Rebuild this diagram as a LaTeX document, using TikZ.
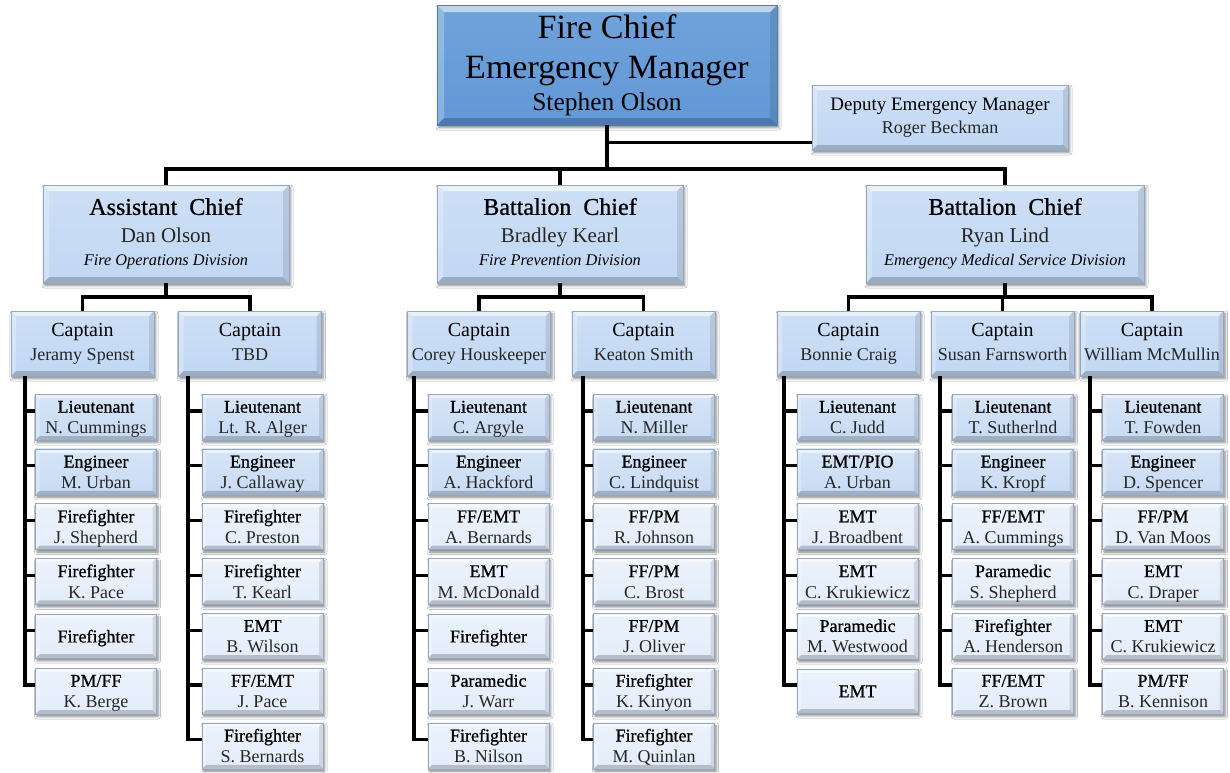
\documentclass[tikz,border=0pt]{standalone}
\usepackage{fontspec}
\setmainfont{Liberation Serif}
\newfontfamily\semib[FakeBold=0.8]{Liberation Serif}
\usetikzlibrary{shadows.blur}

\definecolor{chiefblue}{HTML}{6198D6}
\definecolor{chiefedge}{HTML}{4F7DB5}
\definecolor{unitblue}{HTML}{C1D7F3}
\definecolor{crewblue}{HTML}{C8DBF4}
\definecolor{crewpale}{HTML}{E3EDFA}
\definecolor{boxedge}{HTML}{93A7C0}
\definecolor{nametext}{HTML}{262626}

\tikzset{
  bevel/.style={path picture={
    \fill[white,opacity=.55] (path picture bounding box.north west) -- (path picture bounding box.north east)
      -- ([xshift=-#1,yshift=-#1]path picture bounding box.north east) -- ([xshift=#1,yshift=-#1]path picture bounding box.north west) -- cycle;
    \fill[white,opacity=.25] (path picture bounding box.north west) -- (path picture bounding box.south west)
      -- ([xshift=#1,yshift=#1]path picture bounding box.south west) -- ([xshift=#1,yshift=-#1]path picture bounding box.north west) -- cycle;
    \fill[black,opacity=.2] (path picture bounding box.south west) -- (path picture bounding box.south east)
      -- ([xshift=-#1,yshift=#1]path picture bounding box.south east) -- ([xshift=#1,yshift=#1]path picture bounding box.south west) -- cycle;
    \fill[black,opacity=.1] (path picture bounding box.north east) -- (path picture bounding box.south east)
      -- ([xshift=-#1,yshift=#1]path picture bounding box.south east) -- ([xshift=-#1,yshift=-#1]path picture bounding box.north east) -- cycle;
  }},
  box/.style={rectangle, draw=boxedge, line width=.6pt, inner sep=0pt, align=center,
    blur shadow={shadow xshift=1.5pt, shadow yshift=-2.5pt, shadow blur radius=2.5pt, shadow opacity=50}},
  chief/.style={box, draw=chiefedge, top color=chiefblue!90!white, bottom color=chiefblue, bevel=7pt,
    minimum width=340, minimum height=120, font=\fontsize{34}{40}\selectfont},
  unit/.style={box, top color=unitblue!80!white, bottom color=unitblue, bevel=6pt,
    minimum width=246, minimum height=98, font=\fontsize{24}{28}\selectfont},
  deputy/.style={box, top color=unitblue!80!white, bottom color=unitblue, bevel=5pt,
    minimum width=256, minimum height=65, font=\fontsize{19}{23}\selectfont},
  captain/.style={box, top color=unitblue!80!white, bottom color=unitblue, bevel=5pt,
    minimum width=143, minimum height=65, font=\fontsize{20}{24}\selectfont},
  crew/.style={box, bevel=4pt, minimum width=121, minimum height=44, font=\fontsize{18}{21}\selectfont},
  crewshade/.style={top color=#1!75!white, bottom color=#1},
  conn/.style={line width=3.2pt, black},
}

\def\nonm{-}
% taller first-line strut so crew text sits a little low in its box
\newcommand\crewtop{\rule{0pt}{18.7pt}}
% one column of crew boxes: prefix, centre x, spine x, role/name list
\newcommand\crewcol[4]{%
  \foreach \crewrole/\crewname [count=\i] in {#4}{%
    \pgfmathsetmacro\yy{417+54.8*(\i-1)}%
    \ifnum\i<3 \def\crewfill{crewblue}\else\def\crewfill{crewpale}\fi
    \ifx\crewname\nonm
      \node[crew, crewshade=\crewfill] (#1-\i) at (#2,\yy) {\crewtop\strut\semib\crewrole};
    \else
      \node[crew, crewshade=\crewfill] (#1-\i) at (#2,\yy) {\crewtop\strut{\semib\crewrole}\\\strut{\color{nametext}\crewname}};
    \fi
    \draw[conn] (#3,\yy-6) -- ([yshift=6pt]#1-\i.west);
  }%
}
\newcommand\captext[1]{\strut Captain\\{\fontsize{18}{24}\selectfont\strut\color{nametext}#1}}

\begin{document}
\begin{tikzpicture}[x=1pt,y=-1pt]
\useasboundingbox[fill=white] (0,0) rectangle (1230,772);

% command staff
\node[chief] (top) at (607,65)
  {\strut Fire Chief\\\strut Emergency Manager\\[-8pt]{\fontsize{25.5}{32}\selectfont\strut Stephen Olson}};
\node[deputy] (dep) at (940,117.5)
  {\strut Deputy Emergency Manager\\{\fontsize{18}{23}\selectfont\strut\color{nametext}Roger Beckman}};

% division chiefs
\node[unit] (l2a) at (166,234)
  {\strut{\semib Assistant\ \ Chief}\\{\fontsize{21}{28}\selectfont\strut\color{nametext}Dan Olson}\\[-5pt]{\fontsize{16.3}{23}\selectfont\strut\itshape Fire Operations Division}};
\node[unit] (l2b) at (560,234)
  {\strut{\semib Battalion\ \ Chief}\\{\fontsize{21}{28}\selectfont\strut\color{nametext}Bradley Kearl}\\[-5pt]{\fontsize{16.3}{23}\selectfont\strut\itshape Fire Prevention Division}};
\node[unit, minimum width=278] (l2c) at (1005,234)
  {\strut{\semib Battalion\ \ Chief}\\{\fontsize{21}{28}\selectfont\strut\color{nametext}Ryan Lind}\\[-5pt]{\fontsize{16.3}{23}\selectfont\strut\itshape Emergency Medical Service\ Division}};

% captains
\node[captain] (a1) at (82.5,343.5) {\captext{Jeramy Spenst}};
\node[captain] (a2) at (250,343.5) {\captext{TBD}};
\node[captain] (b1) at (479,343.5) {\captext{Corey Houskeeper}};
\node[captain] (b2) at (643.5,343.5) {\captext{Keaton Smith}};
\node[captain] (c1) at (848.5,343.5) {\captext{Bonnie Craig}};
\node[captain] (c2) at (1002.5,343.5) {\captext{Susan Farnsworth}};
\node[captain] (c3) at (1152,343.5) {\captext{William McMullin}};

% upper connectors
\coordinate (bar) at (0,169);
\coordinate (bar2) at (0,297);
\draw[conn] (top.south) -- (top.south |- bar);
\coordinate (dj) at ([yshift=8pt]dep.south west);
\draw[conn] (top.south |- dj) -- (dj);
\draw[conn] (l2a.north) |- (l2c.north |- bar) -- (l2c.north);
\draw[conn] (l2b.north) -- (l2b.north |- bar);

\draw[conn] (l2a.south) -- (l2a.south |- bar2);
\draw[conn] (a1.north) |- (a2.north |- bar2) -- (a2.north);
\draw[conn] (l2b.south) -- (l2b.south |- bar2);
\draw[conn] (b1.north) |- (b2.north |- bar2) -- (b2.north);
\draw[conn] (l2c.south) -- (l2c.south |- bar2);
\draw[conn] (c1.north) |- (c3.north |- bar2) -- (c3.north);
\draw[conn] (c2.north) -- (c2.north |- bar2);

% crews
\crewcol{ra}{96}{25}{Lieutenant/N. Cummings,Engineer/M. Urban,Firefighter/J. Shepherd,Firefighter/K. Pace,Firefighter/-,{PM/FF}/K. Berge}
\crewcol{rb}{262.5}{188}{Lieutenant/Lt. R. Alger,Engineer/J. Callaway,Firefighter/C. Preston,Firefighter/T. Kearl,EMT/B. Wilson,{FF/EMT}/J. Pace,Firefighter/S. Bernards}
\crewcol{rc}{488.5}{414}{Lieutenant/C. Argyle,Engineer/A. Hackford,{FF/EMT}/A. Bernards,EMT/M. McDonald,Firefighter/-,Paramedic/J. Warr,Firefighter/B. Nilson}
\crewcol{rd}{654}{583}{Lieutenant/N. Miller,Engineer/C. Lindquist,{FF/PM}/R. Johnson,{FF/PM}/C. Brost,{FF/PM}/J. Oliver,Firefighter/K. Kinyon,Firefighter/M. Quinlan}
\crewcol{re}{857.5}{784}{Lieutenant/C. Judd,{EMT/PIO}/A. Urban,EMT/J. Broadbent,EMT/C. Krukiewicz,Paramedic/M. Westwood,EMT/-}
\crewcol{rf}{1013}{940}{Lieutenant/T. Sutherlnd,Engineer/K. Kropf,{FF/EMT}/A. Cummings,Paramedic/S. Shepherd,Firefighter/A. Henderson,{FF/EMT}/Z. Brown}
\crewcol{rg}{1163}{1090}{Lieutenant/T. Fowden,Engineer/D. Spencer,{FF/PM}/D. Van Moos,EMT/C. Draper,EMT/C. Krukiewicz,{PM/FF}/B. Kennison}

% spines from each captain down to the last crew box of the column
\draw[conn] (a1.south -| {25,0}) |- ([yshift=6pt]ra-6.west);
\draw[conn] (a2.south -| {188,0}) |- ([yshift=6pt]rb-7.west);
\draw[conn] (b1.south -| {414,0}) |- ([yshift=6pt]rc-7.west);
\draw[conn] (b2.south -| {583,0}) |- ([yshift=6pt]rd-7.west);
\draw[conn] (c1.south -| {784,0}) |- ([yshift=6pt]re-6.west);
\draw[conn] (c2.south -| {940,0}) |- ([yshift=6pt]rf-6.west);
\draw[conn] (c3.south -| {1090,0}) |- ([yshift=6pt]rg-6.west);
\end{tikzpicture}
\end{document}
